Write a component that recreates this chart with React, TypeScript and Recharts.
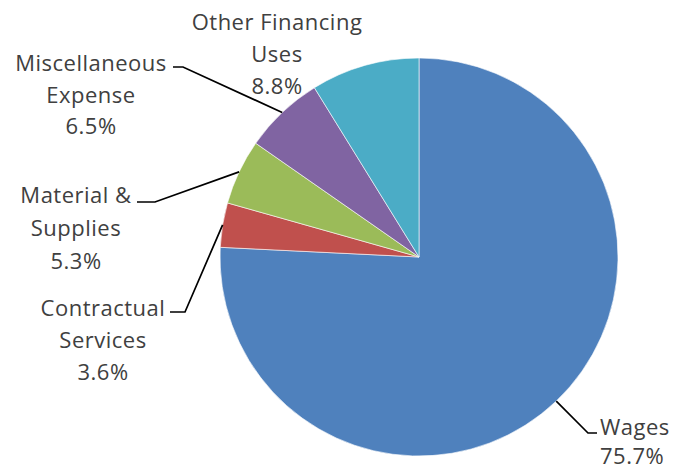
import React from 'react';
import { PieChart, Pie, Cell } from 'recharts';

// expense categories, clockwise from 12 o'clock
const categories = ['Wages', 'Contractual Services', 'Material & Supplies', 'Miscellaneous Expense', 'Other Financing Uses'];
const shares = [75.7, 3.6, 5.3, 6.5, 8.8];

const COLORS = ['#4F81BD', '#C0504D', '#9BBB59', '#8064A2', '#4BACC6'];
const TEXT = '#404040';
const FONT = '"Open Sans", sans-serif';

// where each label sits: words on first line, leader elbow/end, text anchor
const layout = [
  { words: 1, elbow: [588, 433], end: [597, 433], tx: 600, ty: 426, lh: 29, anchor: 'start' },
  { words: 1, elbow: [185, 312], end: [170, 312], tx: 103, ty: 307, lh: 32, anchor: 'middle' },
  { words: 2, elbow: [155, 202], end: [137, 202], tx: 76, ty: 194, lh: 33, anchor: 'middle' },
  { words: 1, elbow: [183, 67], end: [173, 67], tx: 91, ty: 62, lh: 31.5, anchor: 'middle' },
  { words: 2, elbow: null, end: null, tx: 277, ty: 21, lh: 32, anchor: 'middle' },
];

const data = categories.map((name, i) => ({ name, value: shares[i] }));

const RADIAN = Math.PI / 180;

const renderLabel = (props: any) => {
  const { cx, cy, midAngle, outerRadius, index, value } = props;
  const l = layout[index];
  const words = categories[index].split(' ');
  const lines = [words.slice(0, l.words).join(' ')];
  if (words.length > l.words) lines.push(words.slice(l.words).join(' '));
  lines.push(`${Number(value).toFixed(1)}%`);
  const ax = cx + outerRadius * Math.cos(-midAngle * RADIAN);
  const ay = cy + outerRadius * Math.sin(-midAngle * RADIAN);
  return (
    <g key={`lbl-${index}`}>
      {l.elbow && (
        <polyline
          points={`${ax},${ay} ${l.elbow[0]},${l.elbow[1]} ${l.end[0]},${l.end[1]}`}
          fill="none"
          stroke="#000"
          strokeWidth={1.7}
        />
      )}
      {lines.map((t, k) => (
        <text
          key={k}
          x={l.tx}
          y={l.ty + k * l.lh}
          textAnchor={l.anchor}
          dominantBaseline="central"
          fill={TEXT}
          fontFamily={FONT}
          fontSize={22}
          letterSpacing={0.5}
        >
          {t}
        </text>
      ))}
    </g>
  );
};

export default function App() {
  return (
    <div style={{ position: 'absolute', left: 0, top: 0, width: 677, height: 471, background: '#fff' }}>
      <PieChart width={677} height={471} margin={{ top: 0, right: 0, bottom: 0, left: 0 }}>
        <Pie
          data={data}
          dataKey="value"
          nameKey="name"
          cx={419}
          cy={257}
          outerRadius={199}
          startAngle={90}
          endAngle={-270}
          stroke="#ffffff"
          strokeWidth={0.6}
          label={renderLabel}
          labelLine={false}
          isAnimationActive={false}
        >
          {data.map((d, i) => (
            <Cell key={d.name} fill={COLORS[i]} />
          ))}
        </Pie>
      </PieChart>
    </div>
  );
}
